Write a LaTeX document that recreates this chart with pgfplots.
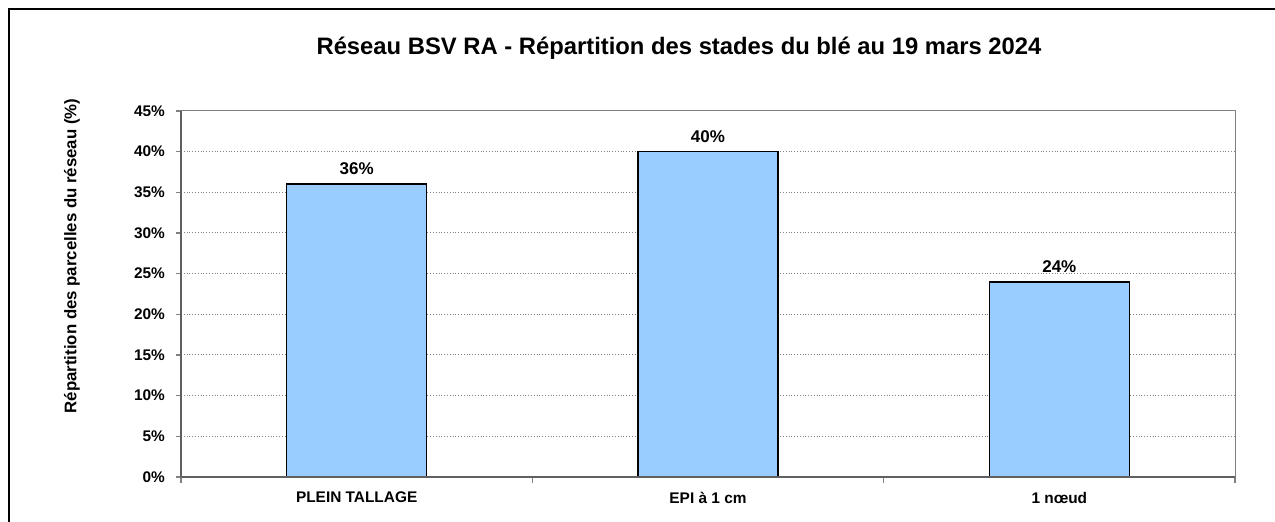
\documentclass[border=0pt]{standalone}
\usepackage{fontspec}
\setmainfont{Liberation Sans}
\usepackage{pgfplots}
\pgfplotsset{compat=1.18}
\definecolor{barblue}{HTML}{99CCFF}
\definecolor{axgray}{HTML}{808080}
\definecolor{axdark}{HTML}{606060}
\begin{document}
\begin{tikzpicture}
\useasboundingbox (0,0) rectangle (637.5pt,261pt);
\draw[black, line width=0.8pt] (4.5pt,0pt) -- (4.5pt,256.5pt) -- (637.5pt,256.5pt);
\node[font=\fontsize{11.9}{14}\selectfont\bfseries] at (339.5pt,237pt) {Réseau BSV RA - Répartition des stades du blé au 19 mars 2024};
\begin{axis}[
  at={(90.5pt,22.5pt)}, anchor=south west,
  scale only axis, width=527pt, height=183pt,
  xmin=-0.5, xmax=2.5, ymin=0, ymax=45,
  xtick={0,1,2},
  xticklabels={PLEIN TALLAGE, EPI à 1 cm, 1 nœud},
  major x tick style={draw=none},
  minor xtick={-0.5,0.5,1.5,2.5},
  minor tick length=3pt,
  minor x tick style={axgray, line width=0.6pt},
  ytick={0,5,...,45},
  yticklabel={\pgfmathprintnumber{\tick}\%},
  /pgf/number format/assume math mode=true,
  tick align=outside,
  major tick length=2.5pt,
  xtick pos=bottom, ytick pos=left,
  major y tick style={axgray, line width=0.6pt},
  ymajorgrids,
  grid style={axgray, densely dotted, line width=0.5pt},
  axis line style={axgray, line width=0.5pt},
  tick label style={font=\fontsize{7.7}{9}\selectfont\bfseries},
  yticklabel style={xshift=-2pt},
  xticklabel style={yshift=-1.5pt},
  ylabel={Répartition des parcelles du réseau (\%)},
  ylabel style={font=\fontsize{8.4}{10}\selectfont\bfseries, at={(axis description cs:-0.1034,0.604)}, anchor=center},
  ybar, bar width=70pt,
  nodes near coords={\pgfmathprintnumber{\pgfplotspointmeta}\%},
  nodes near coords style={font=\fontsize{8.5}{10}\selectfont\bfseries, yshift=1pt},
  clip=false,
]
\addplot[fill=barblue, draw=black, line width=0.75pt] coordinates {(0,36) (1,40) (2,24)};
\draw[axdark, line width=1pt] (rel axis cs:0,0) -- (rel axis cs:0,1);
\draw[axdark, line width=1pt] (rel axis cs:0,0) -- (rel axis cs:1,0);
\end{axis}
\end{tikzpicture}
\end{document}
